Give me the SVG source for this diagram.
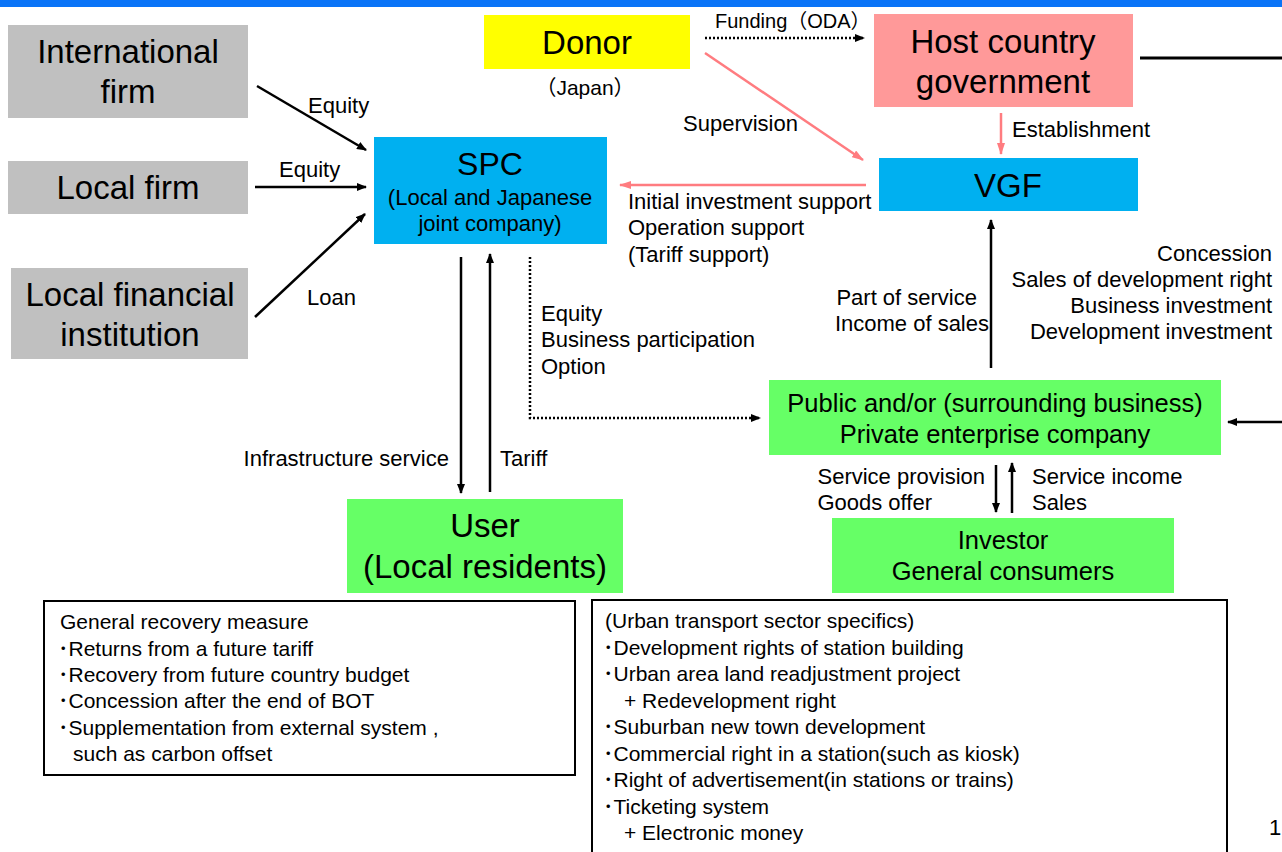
<svg xmlns="http://www.w3.org/2000/svg" width="1282" height="852" viewBox="0 0 1282 852">
  <style>
    text { font-family: "Liberation Sans", Arial, "Noto Sans CJK JP", sans-serif; fill: #000; }
    .big { font-size: 33px; text-anchor: middle; }
    .mid { font-size: 25.5px; text-anchor: middle; }
    .sub { font-size: 22px; text-anchor: middle; }
    .lbl { font-size: 22px; }
    .end { text-anchor: end; }
    .box { font-size: 21px; }
    .blk { stroke: #000; stroke-width: 2.5; fill: none; }
    .pnk { stroke: #FF7C80; stroke-width: 2.5; fill: none; }
    .dot { stroke: #000; stroke-width: 2.5; fill: none; stroke-dasharray: 2 2; }
    .frame { fill: #fff; stroke: #000; stroke-width: 2; }
  </style>
  <defs>
    <marker id="ah" viewBox="0 0 10 8" refX="9" refY="4" markerWidth="10" markerHeight="8" markerUnits="userSpaceOnUse" orient="auto">
      <path d="M0,0 L10,4 L0,8 Z" fill="#000"/>
    </marker>
    <marker id="ahp" viewBox="0 0 12 8" refX="11" refY="4" markerWidth="12" markerHeight="8" markerUnits="userSpaceOnUse" orient="auto">
      <path d="M0,0 L12,4 L0,8 Z" fill="#FF7C80"/>
    </marker>
  </defs>

  <rect width="1282" height="852" fill="#fff"/>
  <rect x="0" y="0" width="1282" height="7" fill="#0A74F7"/>

  <g id="intl-firm">
    <rect x="8" y="25" width="240" height="93" fill="#C0C0C0"/>
    <text class="big" x="128" y="63">International</text>
    <text class="big" x="128" y="103">firm</text>
  </g>
  <g id="local-firm">
    <rect x="8" y="161" width="240" height="53" fill="#C0C0C0"/>
    <text class="big" x="128" y="199">Local firm</text>
  </g>
  <g id="local-fin">
    <rect x="11" y="268" width="237" height="91" fill="#C0C0C0"/>
    <text class="big" x="130" y="306">Local financial</text>
    <text class="big" x="130" y="346">institution</text>
  </g>
  <g id="donor">
    <rect x="484" y="15" width="206" height="54" fill="#FFFF00"/>
    <text class="big" x="587" y="54">Donor</text>
    <text x="585" y="95" style="font-size:21px" text-anchor="middle">（Japan）</text>
  </g>
  <g id="host-gov">
    <rect x="874" y="14" width="259" height="93" fill="#FF9999"/>
    <text class="big" x="1003" y="53">Host country</text>
    <text class="big" x="1003" y="93">government</text>
  </g>
  <g id="vgf">
    <rect x="879" y="158" width="259" height="53" fill="#00B0F0"/>
    <text class="big" x="1008" y="197">VGF</text>
  </g>
  <g id="spc">
    <rect x="374" y="137" width="233" height="107" fill="#00B0F0"/>
    <text class="big" x="490" y="175" style="font-size:32px">SPC</text>
    <text class="sub" x="490" y="205">(Local and Japanese</text>
    <text class="sub" x="490" y="231">joint company)</text>
  </g>
  <g id="user">
    <rect x="347" y="499" width="276" height="94" fill="#66FF66"/>
    <text class="big" x="485" y="537">User</text>
    <text class="big" x="485" y="578">(Local residents)</text>
  </g>
  <g id="enterprise">
    <rect x="769" y="380" width="452" height="75" fill="#66FF66"/>
    <text class="mid" x="995" y="412">Public and/or (surrounding business)</text>
    <text class="mid" x="995" y="443">Private enterprise company</text>
  </g>
  <g id="investor">
    <rect x="832" y="518" width="342" height="75" fill="#66FF66"/>
    <text class="mid" x="1003" y="549">Investor</text>
    <text class="mid" x="1003" y="580">General consumers</text>
  </g>

  <g id="connectors">
    <line class="dot" x1="705" y1="38" x2="864" y2="38" marker-end="url(#ah)"/>
    <line class="blk" x1="1140" y1="58" x2="1282" y2="58" style="stroke-width:3"/>
    <line class="pnk" x1="1001" y1="113" x2="1001" y2="154" marker-end="url(#ahp)"/>
    <line class="pnk" x1="705" y1="53" x2="863" y2="160" marker-end="url(#ahp)"/>
    <line class="pnk" x1="866" y1="185" x2="620" y2="185" marker-end="url(#ahp)"/>
    <line class="blk" x1="257" y1="86" x2="366" y2="150" marker-end="url(#ah)"/>
    <line class="blk" x1="255" y1="187" x2="366" y2="187" marker-end="url(#ah)"/>
    <line class="blk" x1="255" y1="317" x2="365" y2="214" marker-end="url(#ah)"/>
    <line class="blk" x1="461" y1="257" x2="461" y2="493" marker-end="url(#ah)"/>
    <line class="blk" x1="490" y1="492" x2="490" y2="254" marker-end="url(#ah)"/>
    <polyline class="dot" points="530,257 530,418 760,418" marker-end="url(#ah)"/>
    <line class="blk" x1="991" y1="368" x2="991" y2="220" marker-end="url(#ah)"/>
    <line class="blk" x1="1282" y1="422" x2="1228" y2="422" marker-end="url(#ah)"/>
    <line class="blk" x1="996" y1="465" x2="996" y2="512" marker-end="url(#ah)"/>
    <line class="blk" x1="1012" y1="513" x2="1012" y2="463" marker-end="url(#ah)"/>
  </g>

  <g id="edge-labels">
    <text x="715" y="28" style="font-size:20px">Funding（ODA）</text>
    <text class="lbl" x="1012" y="137">Establishment</text>
    <text class="lbl" x="683" y="131">Supervision</text>
    <text class="lbl" x="628" y="209">Initial investment support</text>
    <text class="lbl" x="628" y="235">Operation support</text>
    <text class="lbl" x="628" y="262">(Tariff support)</text>
    <text class="lbl" x="308" y="113">Equity</text>
    <text class="lbl" x="279" y="177">Equity</text>
    <text class="lbl" x="307" y="305">Loan</text>
    <text class="lbl end" x="449" y="466">Infrastructure service</text>
    <text class="lbl" x="500" y="466">Tariff</text>
    <text class="lbl" x="541" y="321">Equity</text>
    <text class="lbl" x="541" y="347">Business participation</text>
    <text class="lbl" x="541" y="374">Option</text>
    <text class="lbl end" x="977" y="305">Part of service</text>
    <text class="lbl end" x="989" y="331">Income of sales</text>
    <text class="lbl end" x="1272" y="261">Concession</text>
    <text class="lbl end" x="1272" y="287">Sales of development right</text>
    <text class="lbl end" x="1272" y="313">Business investment</text>
    <text class="lbl end" x="1272" y="339">Development investment</text>
    <text class="lbl end" x="985" y="484">Service provision</text>
    <text class="lbl end" x="932" y="510">Goods offer</text>
    <text class="lbl" x="1032" y="484">Service income</text>
    <text class="lbl" x="1032" y="510">Sales</text>
  </g>

  <g id="general-recovery">
    <rect class="frame" x="44" y="601" width="531" height="174"/>
    <text class="box" x="60" y="629">General recovery measure</text>
    <text class="box" x="58" y="656">･Returns from a future tariff</text>
    <text class="box" x="58" y="682">･Recovery from future country budget</text>
    <text class="box" x="58" y="708">･Concession after the end of BOT</text>
    <text class="box" x="58" y="735">･Supplementation from external system ,</text>
    <text class="box" x="73" y="761">such as carbon offset</text>
  </g>
  <g id="urban-transport">
    <rect class="frame" x="592" y="600" width="635" height="260"/>
    <text class="box" x="605" y="628">(Urban transport sector specifics)</text>
    <text class="box" x="603" y="655">･Development rights of station building</text>
    <text class="box" x="603" y="681">･Urban area land readjustment project</text>
    <text class="box" x="624" y="708">+ Redevelopment right</text>
    <text class="box" x="603" y="734">･Suburban new town development</text>
    <text class="box" x="603" y="761">･Commercial right in a station(such as kiosk)</text>
    <text class="box" x="603" y="787">･Right of advertisement(in stations or trains)</text>
    <text class="box" x="603" y="814">･Ticketing system</text>
    <text class="box" x="624" y="840">+ Electronic money</text>
  </g>
  <text class="lbl" x="1269" y="835">1</text>
</svg>
